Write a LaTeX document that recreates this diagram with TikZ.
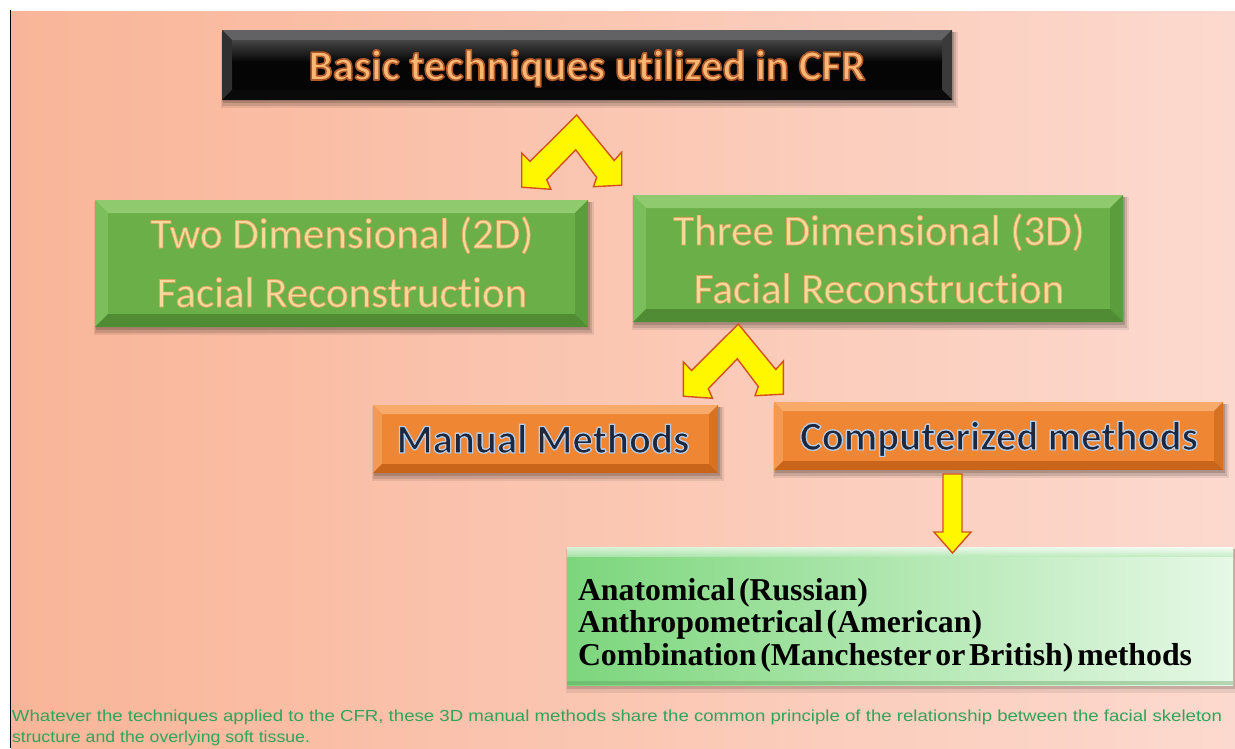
\documentclass[tikz,border=0pt]{standalone}
\usepackage{fontspec}
\usepackage{graphicx}
\newfontfamily\calibri[Ligatures=NoCommon]{Carlito}
\newfontfamily\timesf{Liberation Serif}
\newfontfamily\arialf{Liberation Sans}
\usetikzlibrary{calc}
\definecolor{bgL}{HTML}{F9B598}
\definecolor{bgR}{HTML}{FCD9CE}
% title (black)
\definecolor{kM}{HTML}{050505}
\definecolor{kT}{HTML}{626264}
\definecolor{kL}{HTML}{303030}
\definecolor{kR}{HTML}{3A3A3A}
\definecolor{kB}{HTML}{0A0A0A}
% green
\definecolor{gM}{HTML}{6BAF48}
\definecolor{gT}{HTML}{8FCB6E}
\definecolor{gL}{HTML}{7DBE5C}
\definecolor{gR}{HTML}{5B9C3C}
\definecolor{gB}{HTML}{4F8C33}
% orange
\definecolor{oM}{HTML}{EE8634}
\definecolor{oT}{HTML}{F7AA6A}
\definecolor{oL}{HTML}{F39A52}
\definecolor{oR}{HTML}{D9711F}
\definecolor{oB}{HTML}{C9651A}
% texts
\definecolor{titletxt}{HTML}{FAB774}
\definecolor{tantxt}{HTML}{F4DA9C}
\definecolor{navy}{HTML}{1C2740}
\definecolor{notegreen}{HTML}{2FA55A}
\definecolor{arrowfill}{HTML}{FFF700}
\definecolor{arrowedge}{HTML}{D4501C}
\definecolor{lgL}{HTML}{7CD67C}
\definecolor{lgR}{HTML}{E6F8E6}

\tikzset{
  arrowsty/.style={fill=arrowfill, draw=arrowedge, line width=1.4pt, line join=miter},
  plain/.style={inner sep=0pt, outer sep=0pt},
  titlesty/.style={plain, anchor=base, text=titletxt, font=\calibri\bfseries\fontsize{43}{50}\selectfont},
  facesty/.style={plain, anchor=base, text=tantxt, font=\calibri\fontsize{43}{52}\selectfont},
  methsty/.style={plain, anchor=base, text=navy, font=\calibri\bfseries\fontsize{41}{50}\selectfont},
  listtext/.style={plain, anchor=base west, font=\timesf\bfseries\fontsize{31.8}{34}\selectfont},
  notesty/.style={plain, anchor=base west, text=notegreen, font=\arialf\fontsize{16}{20}\selectfont},
}
\newcommand\tightsp{\spaceskip=0.12em plus 0.05em\relax}
% outlined text through the PDF text render mode (fill, then stroke)
\newcommand\outl[3]{\special{pdf:literal direct #1 RG #2 w 1 j 2 Tr}#3\special{pdf:literal direct 0 Tr}}

% bevelled box: #1 name, #2 x1, #3 y1, #4 x2, #5 y2, #6 bevel, #7 colour prefix
\newcommand\bevelbox[7]{%
  \fill[black,opacity=.08] (#2-1,#3+2) rectangle (#4+6,#5+8);
  \fill[black,opacity=.12] (#2,#3+2) rectangle (#4+4,#5+6);
  \fill[black,opacity=.15] (#2+1,#3+2) rectangle (#4+2,#5+3);
  \node[plain, anchor=north west, minimum width={#4-#2}, minimum height={#5-#3}, fill=#7M] (#1) at (#2,#3) {};
  \fill[#7T] (#2,#3) -- (#4,#3) -- (#4-#6,#3+#6) -- (#2+#6,#3+#6) -- cycle;
  \fill[#7L] (#2,#3) -- (#2+#6,#3+#6) -- (#2+#6,#5-#6) -- (#2,#5) -- cycle;
  \fill[#7R] (#4,#3) -- (#4,#5) -- (#4-#6,#5-#6) -- (#4-#6,#3+#6) -- cycle;
  \fill[#7B] (#2,#5) -- (#4,#5) -- (#4-#6,#5-#6) -- (#2+#6,#5-#6) -- cycle;
}

\begin{document}
\begin{tikzpicture}[x=1pt,y=-1pt]
\useasboundingbox (0,0) rectangle (1235,748);
\fill[white] (0,0) rectangle (1235,748);
\shade[left color=bgL, right color=bgR] (11,11) rectangle (1235,748);
\draw[black, line width=1.6pt] (10.5,10) -- (10.5,748);

% ---------- title ----------
\bevelbox{title}{222}{30}{952}{100}{10}{k}
\shade[top color=kT!70!black, bottom color=kM] (232,40) rectangle (942,62);
\node[titlesty] (titletext) at (587,80) {\outl{0.69 0.35 0.16}{1.6}{Basic techniques utilized in CFR}};

% ---------- 2D / 3D ----------
\bevelbox{twoD}{95}{200}{588}{327}{13}{g}
\bevelbox{threeD}{633}{195}{1123}{322}{13}{g}
\node[facesty] (twoDa) at (342,248) {\outl{0.86 0.64 0.36}{0.7}{Two Dimensional (2D)}};
\node[facesty] (twoDb) at (342,307) {\outl{0.86 0.64 0.36}{0.7}{Facial Reconstruction}};
\node[facesty] (threeDa) at (879,245) {\outl{0.86 0.64 0.36}{0.7}{Three Dimensional (3D)}};
\node[facesty] (threeDb) at (879,303) {\outl{0.86 0.64 0.36}{0.7}{Facial Reconstruction}};

% ---------- manual / computerized ----------
\bevelbox{manual}{373}{405}{718}{473}{9}{o}
\bevelbox{comp}{774}{402}{1223}{470}{9}{o}
\node[methsty] (manualtext) at (543,453) {\outl{0.72 0.80 0.90}{1.3}{Manual Methods}};
\node[methsty] (comptext) at (999,450) {\outl{0.72 0.80 0.90}{1.3}{Computerized methods}};

% ---------- list box ----------
\fill[black,opacity=.08] (566,549) rectangle (1235,693);
\fill[black,opacity=.14] (567,549) rectangle (1235,689);
\node[plain, anchor=north west, minimum width=666, minimum height=138, left color=lgL, right color=lgR] (list) at (567,547) {};
\shade[top color=white, bottom color=lgL!40!lgR, opacity=.7] (567,547) rectangle (1233,556);
\fill[lgL!70!black, opacity=.35] (567,681) rectangle (1233,685);
\node[listtext] (l1) at (578,600) {\tightsp Anatomical (Russian)};
\node[listtext] (l2) at (578,632) {\tightsp Anthropometrical (American)};
\node[listtext] (l3) at (578,665) {\tightsp Combination (Manchester or British) methods};

% ---------- arrows ----------
\coordinate (ch1) at (576.7,115);
\coordinate (ch2) at (738.3,324);
\foreach \c in {ch1,ch2}{
  \begin{scope}[shift={(\c)}]
    \draw[arrowsty] (0,0) -- (37.5,45.5) -- (45,37.2) -- (45,70.2) -- (16.7,71.7) -- (20,62.5)
      -- (-1,34.8) -- (-30,64.7) -- (-25.8,74.3) -- (-55,72.2) -- (-55,38) -- (-46.7,46.4) -- cycle;
  \end{scope}
}
\coordinate (dn) at (952.5,474);
\begin{scope}[shift={(dn)}]
  \draw[arrowsty] (-9.5,0) -- (9.5,0) -- (9.5,58) -- (18.5,58) -- (0,79) -- (-18.5,58) -- (-9.5,58) -- cycle;
\end{scope}

% ---------- note ----------
\node[notesty] (note1) at (12,721)
  {\resizebox{1210pt}{\height}{Whatever the techniques applied to the CFR, these 3D manual methods share the common principle of the relationship between the facial skeleton}};
\node[notesty] (note2) at (12,742)
  {\resizebox{298pt}{\height}{structure and the overlying soft tissue.}};
\end{tikzpicture}
\end{document}
